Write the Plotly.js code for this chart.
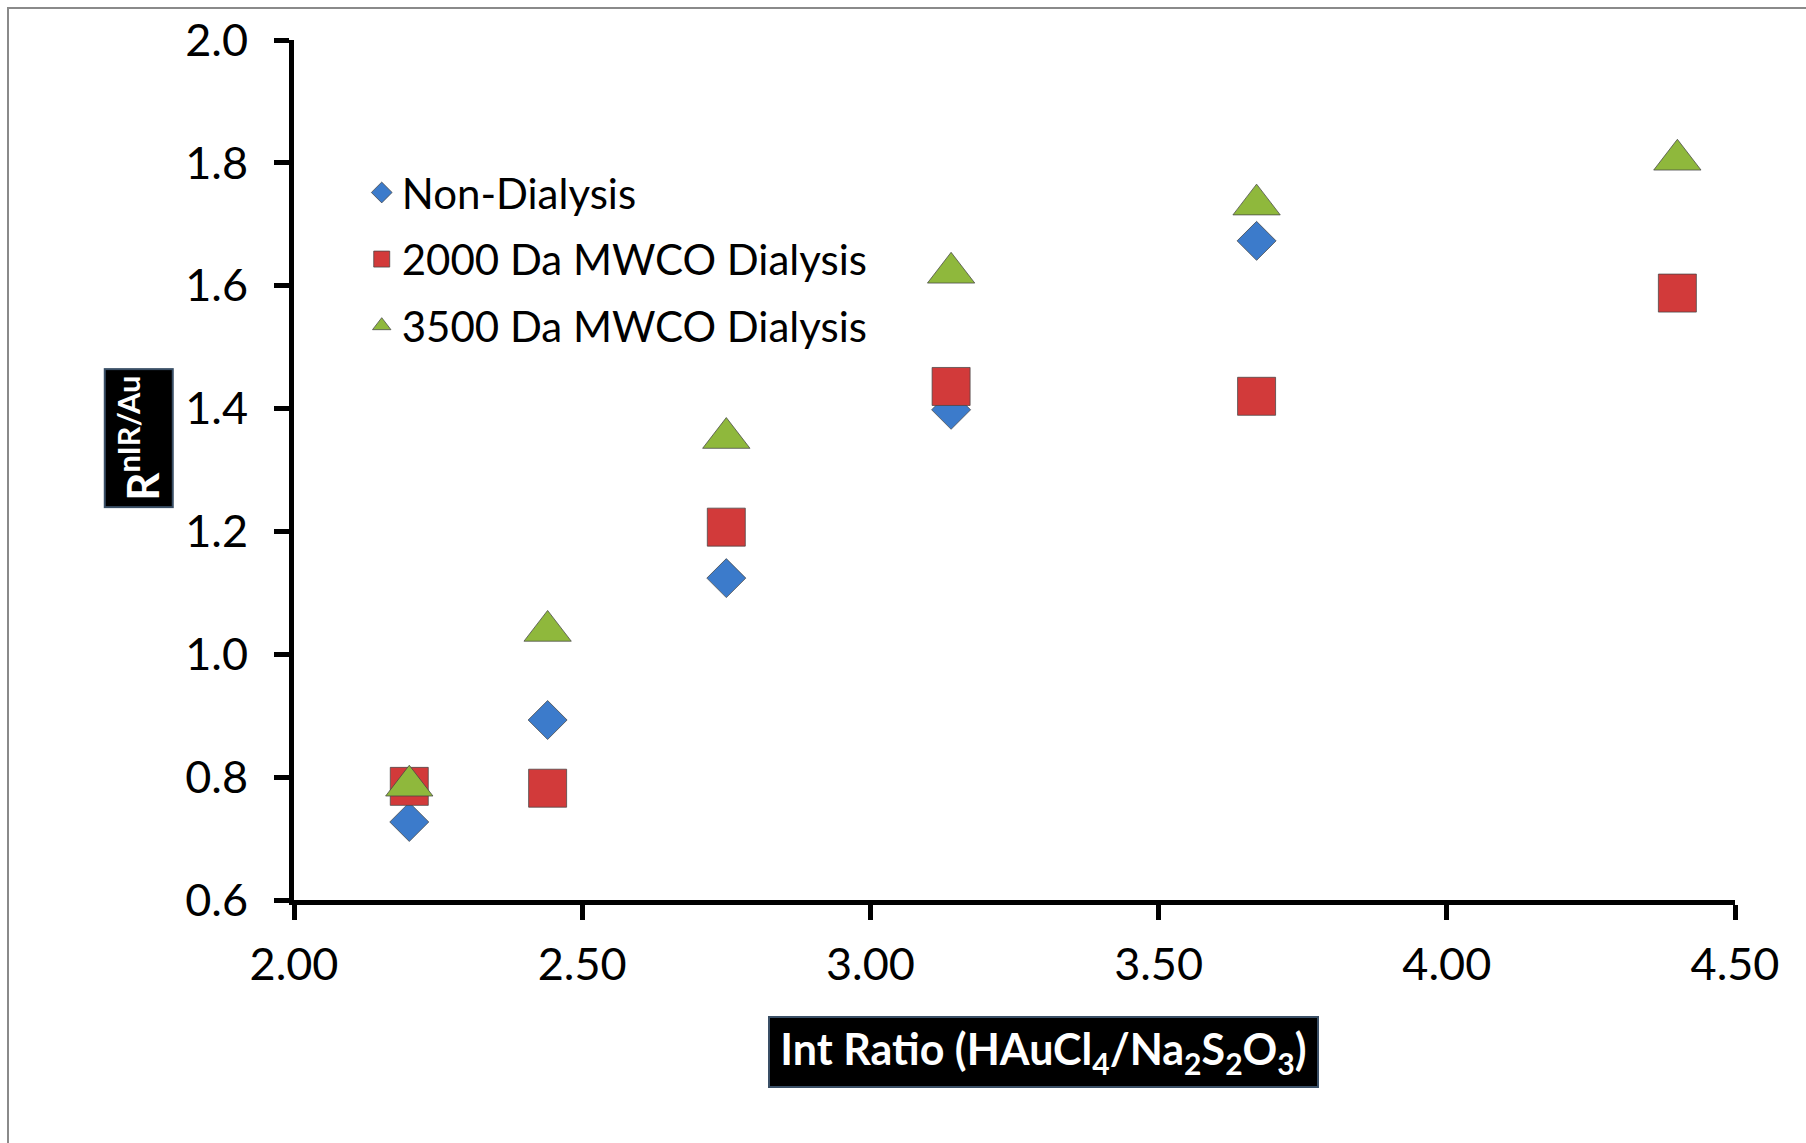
<!DOCTYPE html>
<html>
<head>
<meta charset="utf-8">
<script src="https://cdn.plot.ly/plotly-3.0.1.min.js"></script>
<style>
  html, body { margin: 0; padding: 0; background: #fff; }
  #wrap { position: relative; width: 1806px; height: 1143px; overflow: hidden; }
  #chart { position: absolute; left: 0; top: 0; width: 1806px; height: 1143px; }
  #frame { position: absolute; left: 7px; top: 7px; width: 1900px; height: 1300px;
           border-left: 2px solid #8a8a8a; border-top: 2px solid #8a8a8a; pointer-events: none; }
</style>
</head>
<body>
<div id="wrap">
  <div id="chart"></div>
  <div id="frame"></div>
</div>
<script>
// ---- data ----
const seriesNames = ["Non-Dialysis", "2000 Da MWCO Dialysis", "3500 Da MWCO Dialysis"];

const xNonDialysis = [2.20, 2.44, 2.75, 3.14, 3.67];
const yNonDialysis = [0.727, 0.893, 1.124, 1.398, 1.673];

const x2000 = [2.20, 2.44, 2.75, 3.14, 3.67, 4.40];
const y2000 = [0.785, 0.782, 1.207, 1.436, 1.420, 1.588];

const x3500 = [2.20, 2.44, 2.75, 3.14, 3.67, 4.40];
const y3500 = [0.786, 1.038, 1.352, 1.621, 1.732, 1.805];

const xTickVals = [2.0, 2.5, 3.0, 3.5, 4.0, 4.5];
const xTickText = ["2.00", "2.50", "3.00", "3.50", "4.00", "4.50"];
const yTickVals = [0.6, 0.8, 1.0, 1.2, 1.4, 1.6, 1.8, 2.0];
const yTickText = ["0.6", "0.8", "1.0", "1.2", "1.4", "1.6", "1.8", "2.0"];

const xTitle = "Int Ratio (HAuCl<sub>4</sub>/Na<sub>2</sub>S<sub>2</sub>O<sub>3</sub>)";
const yTitle = "R<sup>nIR/Au</sup>";

// ---- chart ----
const FONT = "Lato, 'Open Sans', sans-serif";
const edge = "rgba(70,70,70,0.75)";

const traces = [
  { x: xNonDialysis, y: yNonDialysis, name: seriesNames[0], legendgroup: "a",
    type: "scatter", mode: "markers",
    marker: { symbol: "diamond", size: 30, color: "#3C7BCB", line: { color: edge, width: 1 } } },
  { x: x2000, y: y2000, name: seriesNames[1], legendgroup: "b",
    type: "scatter", mode: "markers",
    marker: { symbol: "square", size: 38, color: "#D23A3A", line: { color: edge, width: 1 } } },
  { x: x3500, y: y3500, name: seriesNames[2], legendgroup: "c",
    type: "scatter", mode: "markers",
    marker: { symbol: "triangle-up", size: 41, color: "#8FB83C", line: { color: edge, width: 1 } } }
];

const layout = {
  width: 1806, height: 1143,
  paper_bgcolor: "#ffffff", plot_bgcolor: "#ffffff",
  margin: { l: 294, r: 71, t: 40, b: 243 },
  font: { family: FONT, color: "#000" },
  showlegend: true,
  legend: {
    x: 0.047, y: 0.862, xanchor: "left", yanchor: "top",
    font: { family: FONT, size: 42, color: "#000" },
    bgcolor: "rgba(0,0,0,0)", tracegroupgap: 9, itemwidth: 30
  },
  xaxis: {
    range: [2.0, 4.5], tickvals: xTickVals, ticktext: xTickText,
    showgrid: false, zeroline: false,
    showline: true, linecolor: "#000", linewidth: 5,
    ticks: "outside", ticklen: 15, tickwidth: 5, tickcolor: "#000",
    tickfont: { family: FONT, size: 45, color: "#000" },
    ticklabelstandoff: 6
  },
  yaxis: {
    range: [0.6, 2.0], tickvals: yTickVals, ticktext: yTickText,
    showgrid: false, zeroline: false,
    showline: true, linecolor: "#000", linewidth: 5,
    ticks: "outside", ticklen: 15, tickwidth: 5, tickcolor: "#000",
    tickfont: { family: FONT, size: 45, color: "#000" },
    ticklabelstandoff: 17
  },
  annotations: [
    { text: "<b>" + xTitle + "</b>", xref: "paper", yref: "paper",
      x: 0.52, y: -0.177, xanchor: "center", yanchor: "middle", showarrow: false,
      font: { family: FONT, size: 43, color: "#fff" },
      bgcolor: "#000", bordercolor: "#3a4f66", borderwidth: 2,
      width: 545, height: 66 },
    { text: "<b>" + yTitle + "</b>", xref: "paper", yref: "paper",
      x: -0.1076, y: 0.537, xanchor: "center", yanchor: "middle", showarrow: false,
      textangle: -90,
      font: { family: FONT, size: 44, color: "#fff" },
      bgcolor: "#000", bordercolor: "#3a4f66", borderwidth: 2,
      width: 134, height: 64 }
  ]
};

Plotly.newPlot("chart", traces, layout, { displayModeBar: false, staticPlot: true });
</script>
</body>
</html>
